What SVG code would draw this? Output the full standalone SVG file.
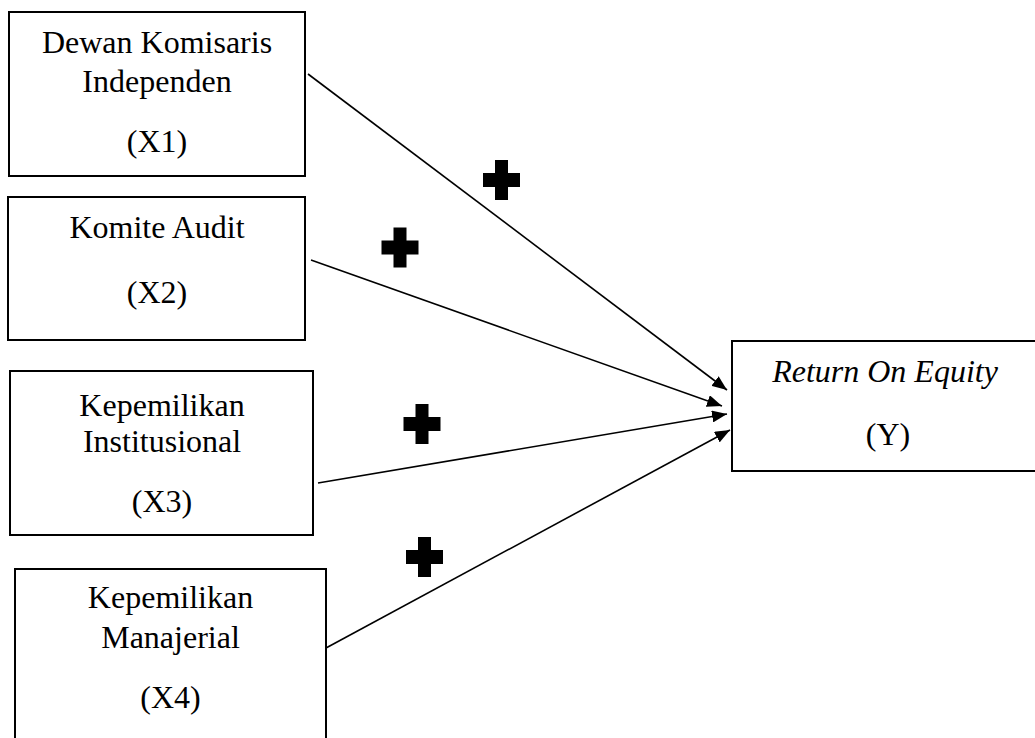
<svg xmlns="http://www.w3.org/2000/svg" width="1035" height="738" viewBox="0 0 1035 738">
<style>
.box{fill:#fff;stroke:#000;stroke-width:2}
.t{font-family:"Liberation Serif","Times New Roman",serif;font-size:32px;fill:#000;text-anchor:middle}
.i{font-style:italic}
.c{stroke:#000;stroke-width:1.6;fill:none;marker-end:url(#ah)}
.plus{fill:#000}
</style>
<defs>
<marker id="ah" markerUnits="userSpaceOnUse" markerWidth="16" markerHeight="12" refX="15" refY="6" orient="auto">
<path d="M0,0 L15,6 L0,12 z" fill="#000"/>
</marker>
<path id="p" d="M-6.5,-20 H6.5 V-7 H18.5 V7 H6.5 V20 H-6.5 V7 H-18.5 V-7 H-6.5 z"/>
</defs>
<rect width="1035" height="738" fill="#fff"/>
<g id="connectors">
<line class="c" x1="308" y1="74" x2="727" y2="390"/>
<line class="c" x1="311" y1="260" x2="722" y2="406"/>
<line class="c" x1="318" y1="483" x2="727" y2="414"/>
<line class="c" x1="326" y1="648" x2="730" y2="430"/>
</g>
<g id="signs" class="plus">
<use href="#p" x="501.5" y="180"/>
<use href="#p" x="400" y="247.5"/>
<use href="#p" x="422" y="424"/>
<use href="#p" x="424.5" y="557"/>
</g>
<g id="x1">
<rect class="box" x="9" y="12" width="296" height="164"/>
<text class="t" x="157" y="53">Dewan Komisaris</text>
<text class="t" x="157" y="92">Independen</text>
<text class="t" x="157" y="152">(X1)</text>
</g>
<g id="x2">
<rect class="box" x="8" y="197" width="297" height="143"/>
<text class="t" x="157" y="238">Komite Audit</text>
<text class="t" x="157" y="303">(X2)</text>
</g>
<g id="x3">
<rect class="box" x="10" y="371" width="303" height="164"/>
<text class="t" x="162" y="416">Kepemilikan</text>
<text class="t" x="162" y="452">Institusional</text>
<text class="t" x="162" y="512">(X3)</text>
</g>
<g id="x4">
<rect class="box" x="15" y="569" width="311" height="180"/>
<text class="t" x="170.5" y="608">Kepemilikan</text>
<text class="t" x="170.5" y="648">Manajerial</text>
<text class="t" x="170.5" y="708">(X4)</text>
</g>
<g id="y">
<rect class="box" x="732" y="341" width="310" height="130"/>
<text class="t i" x="885" y="382">Return On Equity</text>
<text class="t" x="888" y="445">(Y)</text>
</g>
</svg>
